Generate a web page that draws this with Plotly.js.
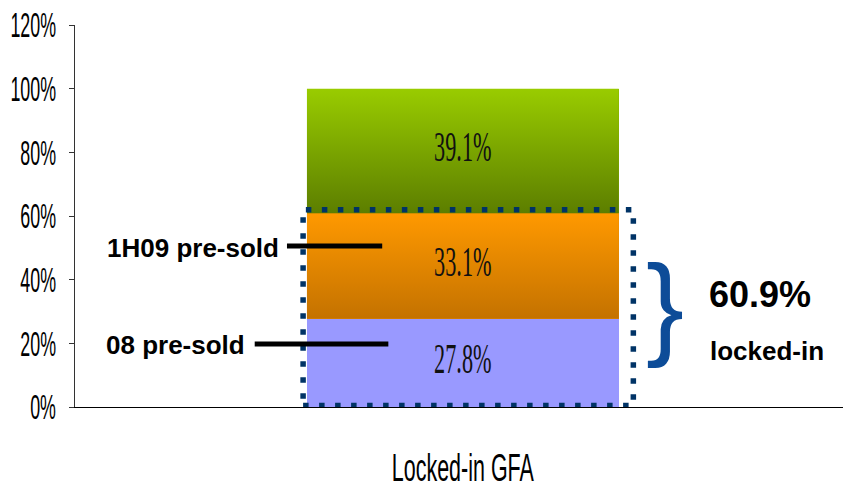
<!DOCTYPE html>
<html><head><meta charset="utf-8">
<script src="https://cdn.plot.ly/plotly-3.0.1.min.js"></script>
<style>html,body{margin:0;padding:0;background:#fff}#chart{width:844px;height:488px}</style>
</head><body><div id="chart"></div>
<script>
const categories = ['Locked-in GFA'];
const seriesNames = ['08 pre-sold', '1H09 pre-sold', 'Remaining'];
const pre08 = [27.8];
const pre1H09 = [33.1];
const remaining = [39.1];
const yTicks = [0, 20, 40, 60, 80, 100, 120];
const lockedTotalLabel = '60.9%';

const BW = 0.406;
const sansF = '"Liberation Sans", Arial, sans-serif';
const serifF = '"Liberation Serif", "Times New Roman", serif';
const xpos = categories.map((c, i) => i);
const segs = [pre08, pre1H09, remaining];
const solid = ['#9999ff', '#e08600', '#7aa600'];
const grads = [null, ['#c47200', '#ff9900'], ['#5c7e00', '#99cc00']];

const traces = [];
segs.forEach((s, k) => {
  traces.push({type: 'bar', x: xpos, y: s, name: seriesNames[k], width: BW,
    marker: {color: solid[k], line: {width: 0}}, hoverinfo: 'skip'});
});
// gradient overlays computed from data
const base = xpos.map(() => 0);
segs.forEach((s, k) => {
  const lo = base.slice();
  s.forEach((v, i) => { base[i] += v; });
  if (!grads[k]) return;
  xpos.forEach((x, i) => {
    traces.push({type: 'scatter', mode: 'lines', fill: 'toself', hoverinfo: 'skip',
      x: [x - BW / 2, x + BW / 2, x + BW / 2, x - BW / 2, x - BW / 2],
      y: [lo[i], lo[i], base[i], base[i], lo[i]],
      line: {width: 0, color: 'rgba(0,0,0,0)'},
      fillgradient: {type: 'vertical', start: lo[i], stop: base[i],
        colorscale: [[0, grads[k][0]], [1, grads[k][1]]]}});
  });
});
// value labels
const cum = xpos.map(() => 0);
segs.forEach((s) => {
  const mids = s.map((v, i) => { const m = cum[i] + v / 2; cum[i] += v; return m; });
  traces.push({type: 'scatter', mode: 'text', x: xpos, y: mids, hoverinfo: 'skip',
    text: s.map(v => v.toFixed(1) + '%'),
    textfont: {family: serifF, size: 42, color: '#111'}});
});

const layout = {
  width: 844, height: 488, showlegend: false, barmode: 'stack',
  margin: {l: 75, r: 1, t: 25, b: 81},
  paper_bgcolor: '#fff', plot_bgcolor: '#fff',
  xaxis: {range: [-0.505, 0.495], tickvals: xpos, ticktext: categories, showgrid: false,
    zeroline: false, showline: true, linecolor: '#000', linewidth: 1, ticks: '',
    ticklabelstandoff: 27, tickfont: {family: sansF, size: 38, color: '#000'}},
  yaxis: {range: [0, 120], tickvals: yTicks, ticktext: yTicks.map(v => v + '%'), showgrid: false,
    zeroline: false, showline: true, linecolor: '#333', linewidth: 1, ticks: 'outside',
    ticklen: 5, tickcolor: '#333', ticklabelstandoff: 6,
    tickfont: {family: sansF, size: 35, color: '#000'}},
  shapes: [
    {type: 'rect', xref: 'x', yref: 'y', x0: -0.208, x1: 0.222, y0: 0.5, y1: 62,
      line: {color: '#003366', width: 5.5, dash: '5.5px,10.5px'}},
    {type: 'line', xref: 'x', yref: 'y', x0: -0.229, x1: -0.105, y0: 50.6, y1: 50.6,
      line: {color: '#000', width: 5}},
    {type: 'line', xref: 'x', yref: 'y', x0: -0.271, x1: -0.097, y0: 19.8, y1: 19.8,
      line: {color: '#000', width: 5}}
  ],
  annotations: [
    {xref: 'x', yref: 'y', x: -0.237, y: 50.0, xanchor: 'right', yanchor: 'middle', showarrow: false,
      text: '<b>1H09 pre-sold</b>', font: {family: sansF, size: 26, color: '#000'}},
    {xref: 'x', yref: 'y', x: -0.281, y: 19.6, xanchor: 'right', yanchor: 'middle', showarrow: false,
      text: '<b>08 pre-sold</b>', font: {family: sansF, size: 26, color: '#000'}},
    {xref: 'x', yref: 'y', x: 0.263, y: 32.3, xanchor: 'center', yanchor: 'middle', showarrow: false,
      text: '}', font: {family: sansF, size: 114, color: '#0d4c98'}},
    {xref: 'x', yref: 'y', x: 0.387, y: 35.2, xanchor: 'center', yanchor: 'middle', showarrow: false,
      text: '<b>' + lockedTotalLabel + '</b>', font: {family: sansF, size: 36, color: '#000'}},
    {xref: 'x', yref: 'y', x: 0.396, y: 17.6, xanchor: 'center', yanchor: 'middle', showarrow: false,
      text: '<b>locked-in</b>', font: {family: sansF, size: 26, color: '#000'}}
  ]
};

function squeeze(sel, s) {
  document.querySelectorAll(sel).forEach(el => {
    const ax = parseFloat(el.getAttribute('x')) || 0;
    const t = el.getAttribute('transform') || '';
    el.setAttribute('transform', t + ' translate(' + ax + ',0) scale(' + s + ',1) translate(' + (-ax) + ',0)');
  });
}
Plotly.newPlot('chart', traces, layout, {staticPlot: true}).then(() => {
  squeeze('#chart .ytick text', 0.51);
  squeeze('#chart .xtick text', 0.565);
  squeeze('#chart .textpoint text', 0.53);
});
</script></body></html>
